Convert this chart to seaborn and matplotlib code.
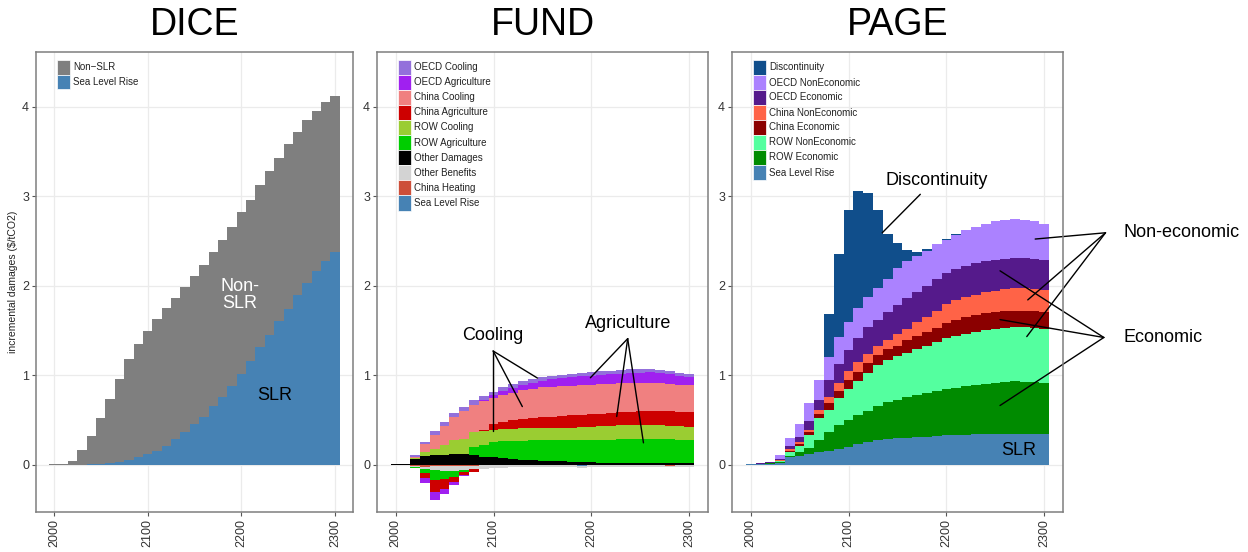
# plot.py - incremental damages by component for DICE, FUND and PAGE
import numpy as np
import matplotlib
matplotlib.use("Agg")
import matplotlib.pyplot as plt
from matplotlib.patches import Rectangle
import seaborn as sns

# ---- data ----
years = list(range(2000, 2310, 10))

# DICE: total bar height and the sea level rise part
dice_total = [0.003, 0.005, 0.045, 0.16, 0.32, 0.52, 0.73, 0.955, 1.175, 1.35,
              1.495, 1.63, 1.75, 1.865, 1.985, 2.11, 2.23, 2.37, 2.51, 2.65,
              2.82, 2.96, 3.12, 3.28, 3.43, 3.58, 3.72, 3.85, 3.95, 4.05,
              4.12]
dice_slr = [0, 0, 0, 0, 0.003, 0.008, 0.015, 0.03, 0.05, 0.08,
            0.12, 0.155, 0.21, 0.29, 0.36, 0.45, 0.535, 0.65, 0.76, 0.88,
            1.01, 1.16, 1.31, 1.45, 1.6, 1.74, 1.89, 2.03, 2.16, 2.27,
            2.37]

# FUND: value of each component (negative = benefit)
fund_oecd_cool = [0.001, 0.002, 0.018, 0.027, 0.037, 0.045, 0.045, 0.047, 0.05, 0.045,
                  0.04, 0.04, 0.04, 0.04, 0.04, 0.037, 0.037, 0.037, 0.037, 0.037,
                  0.037, 0.038, 0.038, 0.04, 0.04, 0.04, 0.038, 0.036, 0.033, 0.03,
                  0.028]
fund_oecd_ag = [0, 0, -0.002, -0.055, -0.09, -0.055, -0.035, -0.01, -0.005, 0.02,
                0.035, 0.045, 0.055, 0.06, 0.068, 0.075, 0.08, 0.085, 0.09, 0.095,
                0.1, 0.103, 0.107, 0.11, 0.113, 0.115, 0.115, 0.113, 0.108, 0.1,
                0.09]
fund_china_cool = [0.001, 0.003, 0.015, 0.085, 0.16, 0.215, 0.257, 0.31, 0.31, 0.315,
                   0.289, 0.297, 0.31, 0.32, 0.322, 0.332, 0.337, 0.336, 0.334, 0.333,
                   0.33, 0.329, 0.325, 0.321, 0.32, 0.319, 0.317, 0.309, 0.304, 0.303,
                   0.308]
fund_china_ag = [0, 0, -0.005, -0.055, -0.13, -0.11, -0.06, -0.04, -0.03, 0.02,
                 0.06, 0.08, 0.095, 0.105, 0.115, 0.12, 0.125, 0.13, 0.135, 0.138,
                 0.14, 0.143, 0.146, 0.148, 0.15, 0.152, 0.155, 0.158, 0.16, 0.16,
                 0.16]
fund_row_cool = [0, 0.001, 0.01, 0.045, 0.07, 0.11, 0.15, 0.17, 0.16, 0.15,
                 0.14, 0.14, 0.14, 0.14, 0.14, 0.14, 0.14, 0.142, 0.144, 0.146,
                 0.148, 0.15, 0.152, 0.154, 0.156, 0.157, 0.157, 0.156, 0.154, 0.152,
                 0.15]
fund_row_ag = [0, 0, -0.005, -0.04, -0.11, -0.09, -0.07, -0.02, 0.09, 0.13,
               0.17, 0.19, 0.2, 0.21, 0.22, 0.225, 0.23, 0.235, 0.24, 0.245,
               0.25, 0.255, 0.26, 0.263, 0.266, 0.268, 0.27, 0.27, 0.268, 0.265,
               0.262]
fund_other_dmg = [0.002, 0.004, 0.065, 0.1, 0.105, 0.11, 0.12, 0.12, 0.11, 0.09,
                  0.08, 0.07, 0.06, 0.055, 0.05, 0.045, 0.04, 0.035, 0.03, 0.028,
                  0.025, 0.022, 0.02, 0.02, 0.018, 0.016, 0.015, 0.014, 0.013, 0.012,
                  0.012]
fund_other_ben = [-0.002, -0.003, -0.01, -0.03, -0.045, -0.05, -0.05, -0.045, -0.04, -0.035,
                  -0.03, -0.028, -0.026, -0.025, -0.024, -0.023, -0.022, -0.021, -0.02, -0.02,
                  -0.02, -0.02, -0.02, -0.02, -0.02, -0.02, -0.02, -0.02, -0.02, -0.02,
                  -0.02]
fund_china_heat = [-0.001, -0.005, -0.02, -0.025, -0.02, -0.02, -0.018, -0.015, -0.012, -0.01,
                   -0.008, -0.006, -0.005, -0.005, -0.004, -0.004, -0.004, -0.003, -0.003, -0.003,
                   -0.003, -0.003, -0.003, -0.003, -0.003, -0.003, -0.003, -0.003, -0.003, -0.003,
                   -0.003]
fund_slr = [0, 0, 0, 0, 0, 0, 0, 0, 0, 0,
            0, 0, 0, 0, 0, 0, 0, 0, 0, -0.015,
            0, 0, 0, 0, 0, 0, 0, 0, -0.008, 0,
            0]

# PAGE: top of each layer in the stack (cumulative, bottom to top)
page_slr_top = [0.002, 0.004, 0.008, 0.02, 0.09, 0.1, 0.12, 0.14, 0.15, 0.175,
                0.2, 0.231, 0.25, 0.269, 0.287, 0.295, 0.3, 0.305, 0.31, 0.318,
                0.325, 0.33, 0.335, 0.338, 0.341, 0.343, 0.344, 0.344, 0.343, 0.343,
                0.342]
page_row_econ_top = [0.003, 0.006, 0.012, 0.03, 0.1, 0.135, 0.19, 0.28, 0.36, 0.437,
                     0.5, 0.549, 0.604, 0.66, 0.698, 0.72, 0.75, 0.775, 0.8, 0.82,
                     0.845, 0.86, 0.875, 0.89, 0.905, 0.915, 0.925, 0.93, 0.925, 0.92,
                     0.91]
page_row_nonecon_top = [0.004, 0.008, 0.018, 0.04, 0.137, 0.204, 0.33, 0.52, 0.61, 0.746,
                        0.847, 0.933, 1.022, 1.108, 1.164, 1.21, 1.25, 1.29, 1.32, 1.37,
                        1.41, 1.44, 1.46, 1.48, 1.5, 1.515, 1.525, 1.535, 1.535, 1.525,
                        1.515]
page_china_econ_top = [0.0045, 0.009, 0.02, 0.044, 0.156, 0.23, 0.36, 0.565, 0.687, 0.82,
                       0.94, 1.034, 1.134, 1.22, 1.295, 1.33, 1.39, 1.44, 1.48, 1.53,
                       1.58, 1.62, 1.65, 1.67, 1.69, 1.705, 1.715, 1.72, 1.72, 1.715,
                       1.705]
page_china_nonecon_top = [0.005, 0.01, 0.022, 0.048, 0.175, 0.25, 0.385, 0.615, 0.76, 0.91,
                          1.045, 1.146, 1.239, 1.325, 1.396, 1.46, 1.52, 1.59, 1.65, 1.72,
                          1.79, 1.84, 1.87, 1.9, 1.925, 1.945, 1.96, 1.975, 1.975, 1.965,
                          1.955]
page_oecd_econ_top = [0.006, 0.012, 0.026, 0.062, 0.204, 0.31, 0.49, 0.725, 0.94, 1.127,
                      1.276, 1.414, 1.537, 1.612, 1.705, 1.78, 1.86, 1.93, 1.99, 2.07,
                      2.14, 2.19, 2.22, 2.25, 2.27, 2.285, 2.3, 2.31, 2.31, 2.3,
                      2.285]
page_oecd_nonecon_top = [0.008, 0.015, 0.034, 0.108, 0.294, 0.455, 0.69, 0.95, 1.2, 1.425,
                         1.593, 1.75, 1.873, 1.978, 2.078, 2.2, 2.27, 2.33, 2.39, 2.46,
                         2.51, 2.565, 2.62, 2.66, 2.69, 2.72, 2.73, 2.74, 2.73, 2.72,
                         2.69]
page_disc_top = [0.008, 0.015, 0.034, 0.108, 0.294, 0.455, 0.69, 0.95, 1.68, 2.35,
                 2.84, 3.056, 3.03, 2.85, 2.58, 2.48, 2.4, 2.38, 2.41, 2.46,
                 2.515, 2.575, 2.62, 2.66, 2.69, 2.72, 2.73, 2.74, 2.73, 2.72,
                 2.69]

# ---- style ----
sns.set_theme(style="whitegrid")
plt.rcParams["font.family"] = ["Liberation Sans", "DejaVu Sans"]
plt.rcParams["text.color"] = "black"

fig = plt.figure(figsize=(12.48, 5.52), dpi=100)
W, H = 1248, 552
ax_dice = fig.add_axes([36 / W, 40 / H, 317 / W, 460 / H])
ax_fund = fig.add_axes([377 / W, 40 / H, 331 / W, 460 / H])
ax_page = fig.add_axes([732 / W, 40 / H, 331 / W, 460 / H])


def stack_bars(ax, series, colors):
    # series: list of arrays from the bottom of the stack to the top
    pos_base = np.zeros(len(years))
    neg_base = np.zeros(len(years))
    for vals, col in zip(series, colors):
        vals = np.asarray(vals, dtype=float)
        pos = np.where(vals > 0, vals, 0)
        neg = np.where(vals < 0, vals, 0)
        ax.bar(years, pos, width=10, bottom=pos_base, color=col, linewidth=0)
        ax.bar(years, neg, width=10, bottom=neg_base, color=col, linewidth=0)
        pos_base += pos
        neg_base += neg


def legend(ax, labels, colors, left_px, top_px, key_h=15.0):
    # ggplot-like key: square swatches stacked with no gaps
    bb = ax.get_position()
    aw, ah = bb.width * W, bb.height * H
    kw = 13.0
    for i, (lab, col) in enumerate(zip(labels, colors)):
        y_top = 1 - (top_px + i * key_h) / ah
        ax.add_patch(Rectangle((left_px / aw, y_top - key_h / ah), kw / aw, key_h / ah,
                               transform=ax.transAxes, facecolor=col, edgecolor="white",
                               linewidth=0.5, clip_on=False, zorder=5))
        ax.text((left_px + kw + 3) / aw, y_top - key_h / 2 / ah, lab, fontsize=7,
                transform=ax.transAxes, va="center", ha="left", color="#222222", zorder=5)


# DICE
dice_non_slr = np.array(dice_total) - np.array(dice_slr)
stack_bars(ax_dice, [dice_slr, dice_non_slr], ["#4682B4", "#7F7F7F"])
legend(ax_dice, ["Non\u2212SLR", "Sea Level Rise"], ["#7F7F7F", "#4682B4"], 21, 8, 14.5)
ax_dice.text(2198, 1.9, "Non-\nSLR", color="white", fontsize=13, ha="center",
             va="center", linespacing=1.0)
ax_dice.text(2236, 0.77, "SLR", color="black", fontsize=13, ha="center", va="center")
ax_dice.set_ylabel("incremental damages ($/tCO2)", fontsize=7.5, color="#222222", labelpad=3)

# FUND
fund_labels = ["OECD Cooling", "OECD Agriculture", "China Cooling", "China Agriculture",
               "ROW Cooling", "ROW Agriculture", "Other Damages", "Other Benefits",
               "China Heating", "Sea Level Rise"]
fund_colors = ["#9370DB", "#A020F0", "#F08080", "#CD0000", "#9ACD32", "#00CD00",
               "#000000", "#D3D3D3", "#CD4F39", "#4682B4"]
fund_series = [fund_oecd_cool, fund_oecd_ag, fund_china_cool, fund_china_ag,
               fund_row_cool, fund_row_ag, fund_other_dmg, fund_other_ben,
               fund_china_heat, fund_slr]
stack_bars(ax_fund, fund_series[::-1], fund_colors[::-1])
legend(ax_fund, fund_labels, fund_colors, 21, 7.5, 15.1)

ax_fund.text(2099, 1.445, "Cooling", fontsize=13, ha="center", va="center")
for ex, ey in [(2099.6, 0.373), (2129.4, 0.648), (2144.9, 0.966)]:
    ax_fund.plot([2099.6, ex], [1.269, ey], color="black", lw=1)
ax_fund.text(2237, 1.58, "Agriculture", fontsize=13, ha="center", va="center")
for ex, ey in [(2198.9, 0.97), (2225.8, 0.537), (2253.1, 0.243)]:
    ax_fund.plot([2237, ex], [1.407, ey], color="black", lw=1)

# PAGE
page_labels = ["Discontinuity", "OECD NonEconomic", "OECD Economic", "China NonEconomic",
               "China Economic", "ROW NonEconomic", "ROW Economic", "Sea Level Rise"]
page_colors = ["#104E8B", "#AB82FF", "#551A8B", "#FF6347", "#8B0000", "#54FF9F",
               "#008B00", "#4682B4"]
page_tops = np.array([page_slr_top, page_row_econ_top, page_row_nonecon_top,
                      page_china_econ_top, page_china_nonecon_top, page_oecd_econ_top,
                      page_oecd_nonecon_top, page_disc_top])
page_layers = np.diff(np.vstack([np.zeros(len(years)), page_tops]), axis=0)
stack_bars(ax_page, list(page_layers), page_colors[::-1])
legend(ax_page, page_labels, page_colors, 21.3, 8, 15.0)

ax_page.text(2190, 3.17, "Discontinuity", fontsize=13, ha="center", va="center")
ax_page.plot([2173.3, 2134.4], [3.02, 2.59], color="black", lw=1)
ax_page.text(2274, 0.16, "SLR", fontsize=13, ha="center", va="center")
ax_page.text(2381, 2.59, "Non-economic", fontsize=13, ha="left", va="center", clip_on=False)
ax_page.text(2381, 1.42, "Economic", fontsize=13, ha="left", va="center", clip_on=False)
for ex, ey in [(2290.6, 2.52), (2283, 1.84), (2282, 1.43)]:
    ax_page.plot([2362.4, ex], [2.59, ey], color="black", lw=1, clip_on=False)
for ex, ey in [(2254.7, 2.165), (2254.7, 1.62), (2254.7, 0.66)]:
    ax_page.plot([2360.7, ex], [1.42, ey], color="black", lw=1, clip_on=False)

# shared axis styling (ggplot theme_bw look)
for ax, title in [(ax_dice, "DICE"), (ax_fund, "FUND"), (ax_page, "PAGE")]:
    ax.set_xlim(1981, 2319)
    ax.set_ylim(-0.53, 4.61)
    ax.set_xticks([2000, 2100, 2200, 2300])
    ax.set_yticks([0, 1, 2, 3, 4])
    ax.tick_params(axis="x", labelrotation=90)
    ax.tick_params(length=3, width=0.8, color="#555555", labelsize=9,
                   labelcolor="#333333", pad=2, left=True, bottom=True)
    ax.grid(True, color="#EBEBEB", lw=0.9)
    ax.set_axisbelow(True)
    for s in ax.spines.values():
        s.set_visible(True)
        s.set_color("#7F7F7F")
        s.set_linewidth(1.1)
    ax.set_xlabel("")
    pos = ax.get_position()
    fig.text(pos.x0 + pos.width / 2, 0.955, title, fontsize=27, ha="center",
             va="center", color="black")

fig.savefig("out.png", dpi=100)
